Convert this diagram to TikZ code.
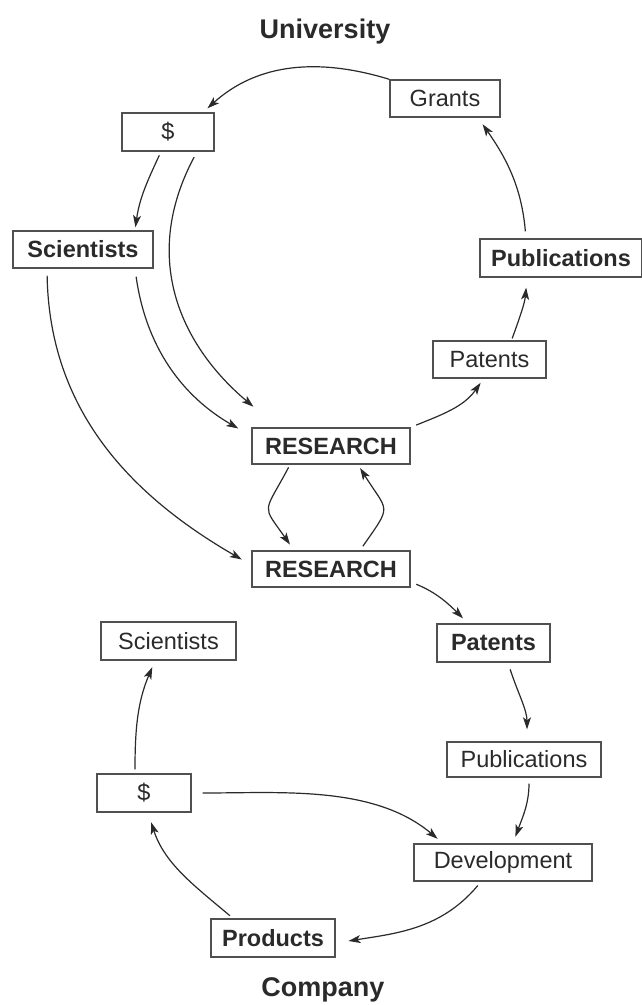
\documentclass[tikz,border=0pt]{standalone}
\usepackage{fontspec}
\setmainfont{Liberation Sans}
\usepackage{tikz}
\usetikzlibrary{arrows.meta}
\usetikzlibrary{positioning}
\usepackage{xcolor}
\definecolor{ink}{HTML}{2A2A2A}
\definecolor{frame}{HTML}{505050}

\begin{document}
\begin{tikzpicture}[x=1pt,y=1pt]
      \useasboundingbox (0,0) rectangle (642,-1005);
      \tikzstyle{every node}=[text=ink,font=\fontsize{23.5}{28}\selectfont]
      \tikzstyle{box}=[draw=frame,line width=1.4pt,rectangle,inner sep=0pt,minimum height=37pt]
      \tikzstyle{heavy}=[font=\fontsize{23.5}{28}\selectfont\bfseries]
      \tikzstyle{flow}=[draw=ink,line width=1.2pt,-{Stealth[length=12pt,width=8pt,inset=3pt]}]

      % university side
      \node[font=\fontsize{27}{32}\selectfont\bfseries] (uni) at (325,-32) {University};
      \node[box,minimum width=110pt] (grants)    at (445,-98.5)   {Grants};
      \node[box,minimum width=92pt,minimum height=38pt] (dolU) at (168,-132) {\$};
      \node[box,heavy,minimum width=140pt] (sciU) at (83,-249.5)  {Scientists};
      \node[box,heavy,minimum width=162pt,minimum height=38pt] (pubU) at (561,-258) {Publications};
      \node[box,minimum width=113pt] (patU)      at (489.5,-359.5) {Patents};
      \node[box,heavy,minimum width=158pt,minimum height=36pt] (resU) at (331,-446) {RESEARCH};

      % company side
      \node[box,heavy,minimum width=158pt,minimum height=36pt] (resC) at (331,-569) {RESEARCH};
      \node[box,minimum width=135pt,minimum height=38pt] (sciC) at (168.5,-641) {Scientists};
      \node[box,heavy,minimum width=113pt,minimum height=38pt] (patC) at (493.5,-643) {Patents};
      \node[box,minimum width=154pt,minimum height=35pt] (pubC) at (524,-759.5) {Publications};
      \node[box,minimum width=94pt,minimum height=38pt]  (dolC) at (144,-793) {\$};
      \node[box,minimum width=178pt] (dev)       at (503,-862.5) {Development};
      \node[box,heavy,minimum width=124pt,minimum height=38pt] (prod) at (273,-938) {Products};
      \node[font=\fontsize{27}{32}\selectfont\bfseries] (comp) at (323,-990) {Company};

      % university cycle
      \draw[flow,shorten >=6pt] (grants.north west) to[out=163,in=42] ([xshift=35pt]dolU.north);
      \draw[flow,shorten <=4pt,shorten >=3pt] ([xshift=-7pt]dolU.south) to[out=-115,in=82] ([xshift=52pt]sciU.north);
      \draw[flow,shorten <=6pt,shorten >=32pt] ([xshift=29pt]dolU.south) to[out=-118,in=140,looseness=1.1] ([xshift=-53pt]resU.north);
      \draw[flow,shorten <=8pt,shorten >=15pt] ([xshift=52pt]sciU.south) to[out=-82,in=150] ([yshift=10pt]resU.west);
      \draw[flow,shorten <=7pt,shorten >=11pt] ([xshift=-36pt]sciU.south) to[out=-89,in=150] ([yshift=4pt]resC.west);
      \draw[flow,shorten <=6pt,shorten >=5pt] (resU.north east) to[out=22,in=-125] ([xshift=-6pt]patU.south);
      \draw[flow,shorten <=2pt,shorten >=10pt] ([xshift=22pt]patU.north) to[out=70,in=-95] ([xshift=-34pt]pubU.south);
      \draw[flow,shorten <=7pt,shorten >=8pt] ([xshift=-35pt]pubU.north) to[out=95,in=-55] ([xshift=33pt]grants.south);

      % the two RESEARCH boxes
      \draw[flow,shorten <=3pt,shorten >=7pt] ([xshift=-41pt]resU.south) to[out=-118,in=125,looseness=1.7] ([xshift=-37pt]resC.north);
      \draw[flow,shorten <=5pt,shorten >=4pt] ([xshift=29pt]resC.north) to[out=55,in=-58,looseness=1.7] ([xshift=27pt]resU.south);

      % company cycle
      \draw[flow,shorten <=6pt,shorten >=7pt] ([yshift=-13pt]resC.east) to[out=-22,in=135] ([xshift=-25.5pt]patC.north);
      \draw[flow,shorten <=7pt,shorten >=12pt] ([xshift=14.5pt]patC.south) to[out=-72,in=90] ([xshift=3pt]pubC.north);
      \draw[flow,shorten <=6pt,shorten >=7pt] ([xshift=5pt]pubC.south) to[out=-90,in=70] ([xshift=10pt]dev.north);
      \draw[flow,shorten <=5pt,shorten >=13pt] ([xshift=-22pt]dev.south) to[out=-130,in=9] ([yshift=-5pt]prod.east);
      \draw[flow,shorten <=4pt,shorten >=10pt] ([xshift=-40pt]prod.north) to[out=140,in=-72] ([xshift=4pt]dolC.south);
      \draw[flow,shorten <=4pt,shorten >=7pt] ([xshift=-9pt]dolC.north) to[out=90,in=-113] ([xshift=-13.5pt]sciC.south);
      \draw[flow,shorten <=11pt,shorten >=7pt] (dolC.east) to[out=0,in=140,looseness=0.9] ([xshift=-60pt]dev.north);
\end{tikzpicture}
\end{document}
